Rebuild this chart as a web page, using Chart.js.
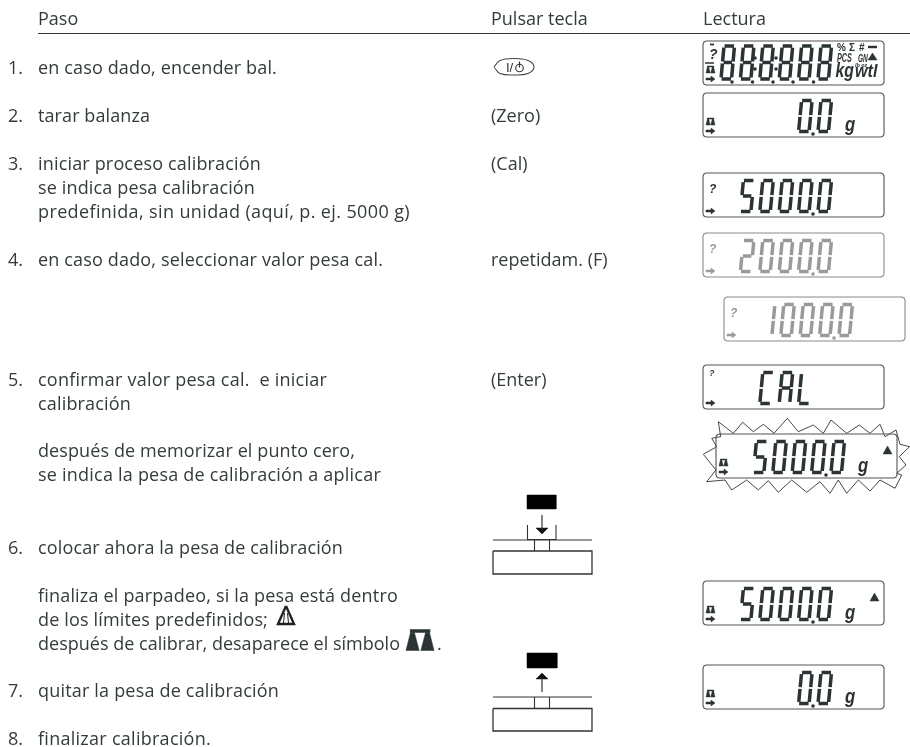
<!DOCTYPE html>
<html lang="es">
<head>
<meta charset="utf-8">
<title>Calibración</title>
<style>
  html, body { margin: 0; padding: 0; background: #fff; }
  canvas { display: block; }
</style>
</head>
<body>
<canvas id="chart" width="910" height="747"></canvas>
<script src="https://cdn.jsdelivr.net/npm/chart.js@4"></script>
<script>
// --- text ---
const headers = ['Paso', 'Pulsar tecla', 'Lectura'];
const headerX = [38, 491, 703];
const headerY = 25;

const stepNumbers = ['1.', '2.', '3.', '4.', '5.', '6.', '7.', '8.'];
const stepNumberY = [74, 122, 170, 266, 386, 554, 697, 745];

const stepLines = [
  'en caso dado, encender bal.',
  'tarar balanza',
  'iniciar proceso calibración',
  'se indica pesa calibración',
  'predefinida, sin unidad (aquí, p. ej. 5000 g)',
  'en caso dado, seleccionar valor pesa cal.',
  'confirmar valor pesa cal.  e iniciar',
  'calibración',
  'después de memorizar el punto cero,',
  'se indica la pesa de calibración a aplicar',
  'colocar ahora la pesa de calibración',
  'finaliza el parpadeo, si la pesa está dentro',
  'de los límites predefinidos;',
  'después de calibrar, desaparece el símbolo',
  'quitar la pesa de calibración',
  'finalizar calibración.'
];
const stepLineY = [74, 122, 170, 194, 218, 266, 386, 410, 457, 481, 554, 602, 626, 650, 697, 745];
// where each line ends in the picture
const stepLineEnd = [277, 150, 261, 255, 410, 383, 327, 131, 355, 381, 343, 398, 268, 400, 279, 211];

const keyLabels = ['(Zero)', '(Cal)', 'repetidam. (F)', '(Enter)'];
const keyLabelY = [122, 170, 266, 386];

// --- lcd readings: text, box corner, colour, which unit marks show ---
const readings = ['888888', '0.0', '5000.0', '2000.0', '1000.0', 'CAL', '5000.0', '5000.0', '0.0'];
const readingSlots = [0, 4, 1, 1, 1, 2, 1, 1, 4];
const readingX = [703, 703, 703, 703, 724, 703, 716, 703, 703];
const readingY = [41, 93, 173, 233, 297, 365, 434, 581, 665];
const readingColor = ['#2b3335', '#2b3335', '#2b3335', '#9a9a9a', '#9a9a9a', '#2b3335', '#2b3335', '#2b3335', '#2b3335'];
const readingUnit = ['', 'g', '', '', '', '', 'g', 'g', 'g'];
const readingQuery = [1, 0, 1, 1, 1, 1, 0, 0, 0];
const readingBalance = [1, 1, 0, 0, 0, 0, 1, 1, 1];
const readingStable = [0, 0, 0, 0, 0, 0, 1, 1, 0];

// flashing outline around the seventh reading
const flashX = [720.7, 718.3, 733.3, 742.7, 753.3, 763.3, 774, 787.3, 798.3, 813.3, 823.3, 831, 846.7, 859.3, 870, 880, 885, 896, 900, 909.5, 899.3, 906, 896.7, 901.7, 895, 880, 870, 858.3, 846.7, 838.3, 830, 820, 806.7, 791.7, 778.3, 768.3, 758.3, 746.7, 731.7, 725, 706.7, 716, 703.3, 716.7, 711.7, 720.7];
const flashY = [436.7, 421.7, 433.3, 422.3, 431.7, 424.3, 433.3, 418.3, 431.7, 425, 433.3, 420, 433.3, 425, 433.3, 424.3, 436.7, 430, 444.3, 446.7, 456.7, 465, 473.3, 475, 488.3, 480, 491, 480, 493.3, 480, 493.3, 481.7, 492.3, 480, 492.3, 480.7, 490, 480, 490, 480, 481.7, 470, 454.3, 446.7, 438.3, 436.7];

// seven segment table
const segmentsOf = {
  '0': 'abcdef', '1': 'bc', '2': 'abged', '5': 'afgcd', '8': 'abcdefg',
  'C': 'afed', 'A': 'abcefg', 'L': 'fed'
};
const segmentEnds = {
  a: [0.05, 0, 0.95, 0], b: [1, 0.05, 1, 0.47], c: [1, 0.53, 1, 0.95],
  d: [0.05, 1, 0.95, 1], e: [0, 0.53, 0, 0.95], f: [0, 0.05, 0, 0.47], g: [0.1, 0.5, 0.9, 0.5]
};

const datasets = [];

function line(points, color, width) {
  datasets.push({
    data: points.map(p => (p ? { x: p[0], y: p[1] } : { x: null, y: null })),
    showLine: true, borderColor: color, borderWidth: width,
    pointRadius: 0, fill: false, tension: 0, borderCapStyle: 'butt'
  });
}

function shape(points, color) {
  const closed = points.concat([points[0]]);
  datasets.push({
    data: closed.map(p => ({ x: p[0], y: p[1] })),
    showLine: true, borderColor: color, borderWidth: 0.5,
    backgroundColor: color, fill: 'shape', pointRadius: 0, tension: 0
  });
}

function dots(points, color, radius) {
  datasets.push({
    data: points.map(p => ({ x: p[0], y: p[1] })),
    showLine: false, pointRadius: radius, pointBackgroundColor: color,
    pointBorderWidth: 0, pointStyle: 'circle'
  });
}

function balanceIcon(x, y, w, h, color) {
  shape([[x + w * 0.15, y], [x + w * 0.85, y], [x + w * 0.85, y + h * 0.14], [x + w * 0.15, y + h * 0.14]], color);
  shape([[x + w * 0.16, y + h * 0.14], [x + w * 0.3, y + h * 0.14], [x + w * 0.47, y + h], [x, y + h]], color);
  shape([[x + w * 0.7, y + h * 0.14], [x + w * 0.84, y + h * 0.14], [x + w, y + h], [x + w * 0.53, y + h]], color);
}

function arrowIcon(x, y, color) {
  shape([[x, y - 1], [x + 5, y - 1], [x + 5, y - 3], [x + 9, y], [x + 5, y + 3], [x + 5, y + 1], [x, y + 1]], color);
}

function roundBox(x, y, w, h, color) {
  const r = 3;
  line([[x + r, y], [x + w - r, y], [x + w - 1, y + 1], [x + w, y + r], [x + w, y + h - r], [x + w - 1, y + h - 1], [x + w - r, y + h],
    [x + r, y + h], [x + 1, y + h - 1], [x, y + h - r], [x, y + r], [x + 1, y + 1], [x + r, y]], color, 1.1);
}

function drawReading(i) {
  const bx = readingX[i], by = readingY[i], color = readingColor[i];
  const tall = i === 0 ? 33 : 31;
  const top = by + (i === 0 ? 5 : 7.5);
  const w = 10.5, lean = 3, pitch = 19.4;
  const strokes = [];
  const points = [];
  let slot = readingSlots[i];
  roundBox(bx, by, 181, 44, color === '#2b3335' ? '#555' : '#8a8a8a');

  for (const ch of readings[i]) {
    if (ch === '.') {
      points.push([bx + 13 + pitch * slot, by + 41]);
      continue;
    }
    const x0 = bx + 18 + pitch * slot;
    for (const s of segmentsOf[ch]) {
      const e = segmentEnds[s];
      const place = (u, v) => [x0 + u * w + (1 - v) * lean, top + v * tall];
      strokes.push(place(e[0], e[1]), place(e[2], e[3]), null);
    }
    slot++;
  }
  if (i === 0) {
    // every digit place has its decimal point, plus the two colons
    [732, 752.5, 773, 793, 813.5].forEach(x => points.push([x, by + 41]));
    [755, 776].forEach(x => points.push([x, by + 17], [x, by + 28]));
  }
  line(strokes, color, 3.5);
  if (points.length) dots(points, color, 1.8);
  if (readingBalance[i]) balanceIcon(bx + 3, by + 25, 9, 7, color);
  arrowIcon(bx + 3, by + 38, color);
  if (readingStable[i]) shape([[bx + 171.5, by + 12], [bx + 176, by + 20], [bx + 167, by + 20]], color);
}

readings.forEach((r, i) => drawReading(i));

// header rule
line([[38, 33.5], [910, 33.5]], '#333', 1.2);

// flashing outline
line(flashX.map((x, i) => [x, flashY[i]]), '#333', 0.9);

// first reading extras
line([[710, 44.5], [714, 44.5]], '#2b3335', 1.8);
line([[705, 63], [714, 63]], '#2b3335', 1.5);
line([[868, 47], [877, 47]], '#2b3335', 2.4);
shape([[872.5, 53], [877, 60], [868, 60]], '#2b3335');

// power key
datasets.push({
  data: [[494, 67], [500, 60.5], [514, 58.5], [528, 60.5], [534, 67], [528, 73.5], [514, 75], [500, 73.5], [494, 67]].map(p => ({ x: p[0], y: p[1] })),
  showLine: true, borderColor: '#444', borderWidth: 1.1, pointRadius: 0, tension: 0.4
});
datasets.push({
  data: [{ x: 519.5, y: 68 }], showLine: false, pointRadius: 3.8, pointBorderColor: '#333',
  pointBorderWidth: 1.1, pointBackgroundColor: 'transparent'
});
line([[519.5, 61.5], [519.5, 67.5]], '#333', 1.2);

// weighing pan: place the weight
shape([[527, 495], [556, 495], [556, 509], [527, 509]], '#000');
line([[542, 515], [542, 530]], '#333', 1.2);
shape([[536, 528], [548, 528], [542, 534]], '#111');
line([[527.5, 525], [527.5, 539.5], [556, 539.5], [556, 525]], '#333', 1.1);
line([[493, 540], [592, 540]], '#333', 1.1);
line([[534.5, 540], [534.5, 551]], '#333', 1.1);
line([[549.5, 540], [549.5, 551]], '#333', 1.1);
line([[493, 551], [592, 551], [592, 574], [493, 574], [493, 551]], '#333', 1.3);

// weighing pan: take it off
shape([[527, 653], [557, 653], [557, 668], [527, 668]], '#000');
line([[542, 678], [542, 692]], '#333', 1.2);
shape([[536, 679], [548, 679], [542, 673]], '#111');
line([[493, 697], [592, 697]], '#333', 1.1);
line([[534.5, 697], [534.5, 708]], '#333', 1.1);
line([[549.5, 697], [549.5, 708]], '#333', 1.1);
line([[493, 708.5], [592, 708.5], [592, 731], [493, 731], [493, 708.5]], '#333', 1.3);

// inline symbols in step 6
line([[286, 606], [278, 624], [294, 624], [286, 606]], '#222', 2.4);
line([[284.5, 613], [283.5, 623]], '#222', 1);
line([[287.5, 613], [288.5, 623]], '#222', 1);
balanceIcon(406, 629.5, 28, 21, '#2b3335');

const textFont = '"Open Sans", sans-serif';

const textPlugin = {
  id: 'pageText',
  afterDatasetsDraw(chart) {
    const ctx = chart.ctx;
    const px = v => chart.scales.x.getPixelForValue(v);
    const py = v => chart.scales.y.getPixelForValue(v);
    const put = (text, x, y, font, color, spacing) => {
      ctx.font = font;
      ctx.fillStyle = color;
      ctx.letterSpacing = spacing || '0px';
      ctx.fillText(text, px(x), py(y));
    };
    // lcd lettering is narrower than any installed face
    const putNarrow = (text, x, y, font, color, squeeze) => {
      ctx.save();
      ctx.translate(px(x), py(y));
      ctx.scale(squeeze, 1);
      ctx.font = font;
      ctx.fillStyle = color;
      ctx.fillText(text, 0, 0);
      ctx.restore();
    };
    ctx.save();
    ctx.textBaseline = 'alphabetic';
    const body = '18px ' + textFont;
    const ink = '#333b3d';
    headers.forEach((t, i) => put(t, headerX[i], headerY, body, ink));
    stepNumbers.forEach((t, i) => put(t, 8, stepNumberY[i], body, ink));
    stepLines.forEach((t, i) => {
      ctx.font = body;
      ctx.letterSpacing = '0px';
      const room = stepLineEnd[i] - 38 - ctx.measureText(t).width;
      put(t, 38, stepLineY[i], body, ink, (room / t.length).toFixed(3) + 'px');
    });
    keyLabels.forEach((t, i) => put(t, 491, keyLabelY[i], body, ink));
    put('.', 437, 650, body, ink);
    put('I/', 506, 72, '13px "Liberation Sans", sans-serif', '#333');

    // lcd marks
    const lcd = 'italic bold ';
    const lcdFont = '"Liberation Sans", sans-serif';
    readings.forEach((r, i) => {
      const color = readingColor[i];
      if (readingUnit[i]) putNarrow(readingUnit[i], readingX[i] + 142, readingY[i] + 38, lcd + '21px ' + lcdFont, color, 0.8);
      if (readingQuery[i]) {
        const size = i === 0 ? 14 : (i === 5 ? 9 : 12);
        const dy = i === 0 ? 18 : (i === 5 ? 11 : 20);
        put('?', readingX[i] + 6, readingY[i] + dy, lcd + size + 'px ' + lcdFont, color);
      }
    });
    const dark = '#2b3335';
    put('%', 837, 51, 'bold 10px ' + lcdFont, dark);
    put('Σ', 849, 51, 'bold 10px ' + lcdFont, dark);
    put('#', 859, 51, 'bold 10px ' + lcdFont, dark);
    putNarrow('PCS', 837, 62, lcd + '12px ' + lcdFont, dark, 0.6);
    putNarrow('GN', 858, 62, lcd + '10px ' + lcdFont, dark, 0.65);
    putNarrow('lb oz', 855, 66.5, lcd + '6px ' + lcdFont, dark, 0.9);
    putNarrow('kg', 835.5, 77, lcd + '21px ' + lcdFont, dark, 0.75);
    putNarrow('wtl', 855, 77, lcd + '19px ' + lcdFont, dark, 0.85);
    ctx.restore();
  }
};

new Chart(document.getElementById('chart'), {
  type: 'scatter',
  data: { datasets },
  plugins: [textPlugin],
  options: {
    responsive: false,
    animation: false,
    layout: { padding: 0, autoPadding: false },
    events: [],
    scales: {
      x: { type: 'linear', min: 0, max: 910, display: false },
      y: { type: 'linear', min: 0, max: 747, reverse: true, display: false }
    },
    plugins: { legend: { display: false }, tooltip: { enabled: false }, title: { display: false } }
  }
});
</script>
</body>
</html>
